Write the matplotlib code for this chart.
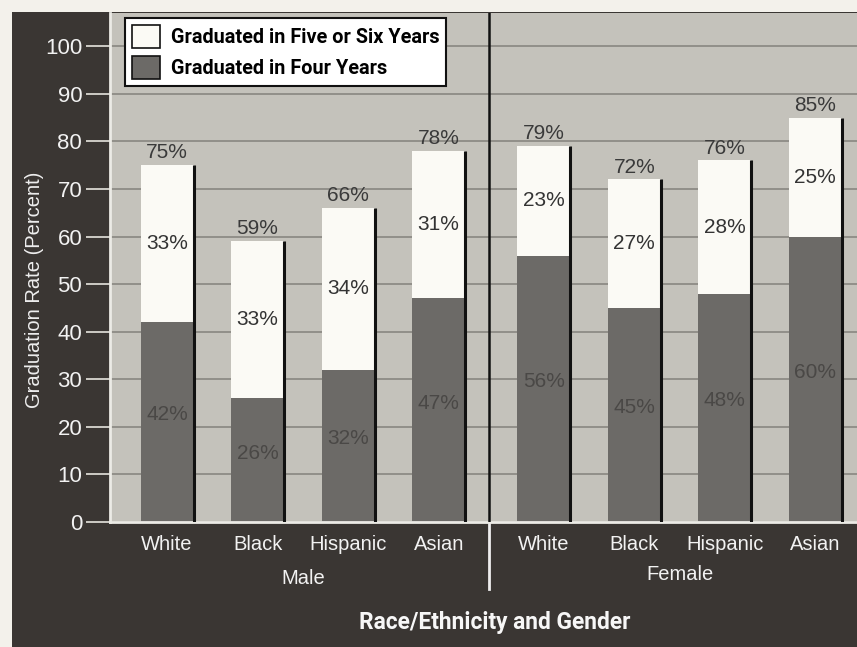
import matplotlib.pyplot as plt
from matplotlib.patches import Patch, Rectangle
import numpy as np

# graduation rates by race/ethnicity, split by gender
groups = ["White", "Black", "Hispanic", "Asian"]
male_four_years = [42, 26, 32, 47]
male_five_six = [33, 33, 34, 31]
female_four_years = [56, 45, 48, 60]
female_five_six = [23, 27, 28, 25]

paper = "#f3f1eb"
frame = "#3a3633"
plot_bg = "#c4c2bb"
bar_dark = "#6c6a67"
bar_light = "#fbfaf5"
grid_col = "#8d8b85"
narrow = ["Roboto", "DejaVu Sans"]
plain = ["Liberation Sans", "DejaVu Sans"]

fig = plt.figure(figsize=(8.57, 6.47), dpi=100, facecolor=paper)
fig.patches.append(Rectangle((12 / 857, 0), 1, 1 - 12 / 647, transform=fig.transFigure,
                             facecolor=frame, edgecolor="none", zorder=-1))

ax = fig.add_axes([110 / 857, 125 / 647, 747 / 857, 509 / 647])
ax.set_facecolor(plot_bg)

gap = 1.16
x_male = np.arange(4)
x_female = np.arange(4) + 3 + gap
width = 0.585

ax.set_ylim(0, 107)
ax.set_xlim(-0.63, 7.62)
ax.set_yticks(range(0, 101, 10))
ax.yaxis.grid(True, color=grid_col, lw=1.3)
ax.set_axisbelow(True)


def draw_bars(xs, four, five):
    four = np.array(four)
    five = np.array(five)
    total = four + five
    ax.bar(xs, four, width, color=bar_dark, zorder=2)
    ax.bar(xs, five, width, bottom=four, color=bar_light, zorder=2)
    ax.vlines(xs + width / 2, 0, total, color="#111111", lw=2.2, zorder=3)
    for x, f, s, t in zip(xs, four, five, total):
        ax.text(x, f / 2 + 1.5, f"{f}%", ha="center", va="center",
                fontsize=15, color="#4a4846", family=plain, zorder=4)
        ax.text(x, f + s / 2, f"{s}%", ha="center", va="center",
                fontsize=15, color="#333333", family=plain, zorder=4)
        ax.text(x, t + 0.6, f"{t}%", ha="center", va="bottom",
                fontsize=15, color="#3a3a3a", family=plain, zorder=4)


draw_bars(x_male, male_four_years, male_five_six)
draw_bars(x_female, female_four_years, female_five_six)

# divider between the two genders
divider = 3 + gap / 2 - 0.02
ax.axvline(divider, color="#111111", lw=1.8, zorder=3)
ax.plot([divider, divider], [0, -14], color="#eeeeee", lw=2, clip_on=False)

ax.set_xticks(list(x_male) + list(x_female))
ax.set_xticklabels(groups + groups)
ax.tick_params(axis="x", length=0, pad=9, labelsize=14.5, labelcolor="#f2f2f2")
ax.tick_params(axis="y", length=17, width=1.3, color="#d9d7d1", pad=3,
               labelsize=16, labelcolor="#f2f2f2")
for lab in ax.get_xticklabels() + ax.get_yticklabels():
    lab.set_family(plain)

for side in ["top", "right"]:
    ax.spines[side].set_visible(False)
for side in ["left", "bottom"]:
    ax.spines[side].set_color("#ecebe6")
    ax.spines[side].set_linewidth(2)

ax.text(1.5, -11.8, "Male", ha="center", va="center", fontsize=14.5,
        color="#f2f2f2", family=plain, clip_on=False)
ax.text(5.66, -11.0, "Female", ha="center", va="center", fontsize=14.5,
        color="#f2f2f2", family=plain, clip_on=False)

fig.text(35 / 857, 1 - 290 / 647, "Graduation Rate (Percent)", rotation=90,
         ha="center", va="center", fontsize=14.5, color="#eeeeee", family=plain)
fig.text(495 / 857, 1 - 622 / 647, "Race/Ethnicity and Gender", ha="center",
         va="center", fontsize=16.4, fontweight="bold", color="#f7f7f7", family=narrow)

handles = [Patch(facecolor=bar_light, edgecolor="#111111", lw=1.2, label="Graduated in Five or Six Years"),
           Patch(facecolor=bar_dark, edgecolor="#111111", lw=1.2, label="Graduated in Four Years")]
leg = ax.legend(handles=handles, loc="upper left", bbox_to_anchor=(15 / 747, 1 - 5 / 509),
                prop={"family": narrow, "weight": "bold", "size": 14.3},
                frameon=True, fancybox=False, edgecolor="#111111", facecolor="white",
                framealpha=1, handlelength=1.4, handleheight=1.4, borderpad=0.35,
                labelspacing=0.4, handletextpad=0.55, borderaxespad=0)
leg.get_frame().set_linewidth(1.5)
leg.set_zorder(5)

fig.savefig("out.png", dpi=100, facecolor=paper)
